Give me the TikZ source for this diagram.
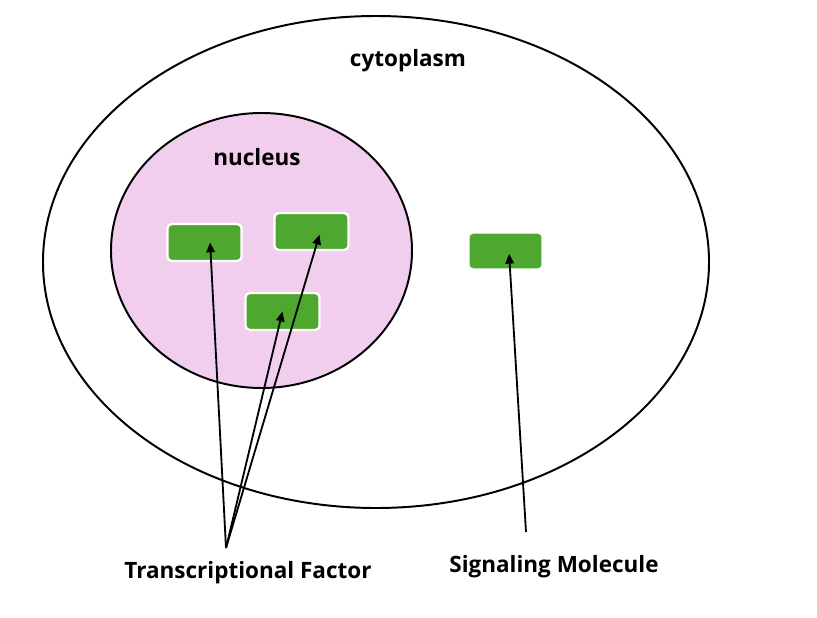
\documentclass[tikz,border=0pt]{standalone}
\usepackage{fontspec}
\setmainfont{Open Sans}
\usetikzlibrary{arrows.meta}
\definecolor{nucpink}{RGB}{241,206,238}
\definecolor{molgreen}{RGB}{78,167,46}
\tikzset{
    molbox/.style={draw=white, line width=1.6pt, fill=molgreen, rounded corners=3pt,
        minimum width=1.85cm, minimum height=0.92cm, inner sep=0pt},
    pointer/.style={-{Triangle[length=7pt,width=6pt]}, line width=1.3pt},
    lbl/.style={font=\fontsize{16}{18}\selectfont\bfseries}
}
\begin{document}
\begin{tikzpicture}[x=0.025cm, y=-0.025cm]
            \useasboundingbox (0,0) rectangle (817,618);

            % Cytoplasm
            \draw[line width=1.4pt] (376,262) ellipse [x radius=333, y radius=246];
            \node[lbl] (cyto) at (408,61) {cytoplasm};

            % Nucleus
            \draw[line width=1.4pt, fill=nucpink] (261.5,250.5) ellipse [x radius=150.5, y radius=137.5];
            \node[lbl] (nuc) at (257,157) {nucleus};

            % Molecules
            \node[molbox] (tf1) at (204.5,242.5) {};
            \node[molbox] (tf2) at (311.5,231.5) {};
            \node[molbox] (tf3) at (282.5,311.5) {};
            \node[molbox] (sig) at (505.5,251) {};

            % Labels below
            \node[lbl] (tflabel) at (248,573) {Transcriptional Factor};
            \node[lbl] (siglabel) at (554,567) {Signaling Molecule};
            \coordinate (tfroot) at (226,548);
            \coordinate (sigroot) at (526,532);

            % Pointers
            \draw[pointer] (tfroot) -- ([xshift=0.14cm]tf1.center);
            \draw[pointer] (tfroot) -- (tf3.center);
            \draw[pointer] (tfroot) -- ([xshift=0.2cm,yshift=-0.08cm]tf2.center);
            \draw[pointer] (sigroot) -- ([xshift=0.09cm,yshift=-0.07cm]sig.center);
        \end{tikzpicture}
\end{document}
